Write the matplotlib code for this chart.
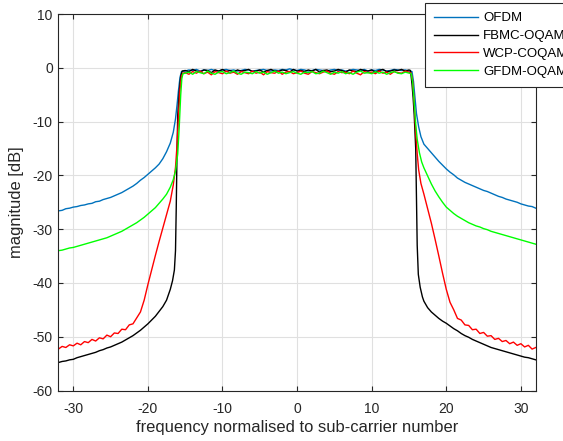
import matplotlib
matplotlib.use("Agg")
import matplotlib.pyplot as plt
import numpy as np

plt.rcParams['font.family'] = ['Liberation Sans', 'DejaVu Sans']
plt.rcParams['axes.unicode_minus'] = False

# frequency sample positions (sub-carrier units)
x_left = np.linspace(-32, -17, 31)
x_pass = np.linspace(-15, 15, 61)
x_right = np.linspace(17, 32, 31)

labels = ['OFDM', 'FBMC-OQAM', 'WCP-COQAM', 'GFDM-OQAM']
colors = ['#0072BD', '#000000', '#FF0000', '#00FF00']

# OFDM
ofdm_left = [-26.6, -26.5, -26.2, -26.1, -25.9, -25.8, -25.6, -25.5, -25.3, -25.2,
             -24.9, -24.8, -24.5, -24.3, -24.1, -23.8, -23.5, -23.2, -22.8, -22.4,
             -22.0, -21.5, -20.9, -20.4, -19.8, -19.2, -18.6, -17.9, -16.9, -15.6, -14.0]
ofdm_edge_l_x = [-16.6, -16.3, -16.1, -15.9, -15.7, -15.5]
ofdm_edge_l = [-12.0, -9.5, -7.0, -4.2, -1.8, -0.7]
ofdm_pass = [-0.6, -0.4, -0.5, -0.3, -0.6, -0.4, -0.5, -0.3, -0.5, -0.6,
             -0.4, -0.3, -0.5, -0.4, -0.6, -0.5, -0.3, -0.4, -0.6, -0.5,
             -0.4, -0.3, -0.5, -0.6, -0.4, -0.5, -0.3, -0.4, -0.2, -0.4,
             -0.5, -0.3, -0.4, -0.6, -0.5, -0.3, -0.4, -0.5, -0.6, -0.4,
             -0.3, -0.5, -0.4, -0.6, -0.5, -0.3, -0.4, -0.5, -0.3, -0.6,
             -0.4, -0.5, -0.3, -0.4, -0.6, -0.5, -0.3, -0.4, -0.5, -0.4, -0.6]
ofdm_edge_r_x = [15.4, 15.6, 15.8, 16.0, 16.3, 16.6]
ofdm_edge_r = [-0.7, -2.5, -5.5, -8.5, -11.0, -12.8]
ofdm_right = [-14.2, -15.0, -15.8, -16.6, -17.4, -18.1, -18.8, -19.4, -19.9, -20.5,
              -20.9, -21.3, -21.6, -21.9, -22.2, -22.5, -22.8, -23.0, -23.3, -23.6,
              -23.9, -24.1, -24.4, -24.6, -24.8, -25.0, -25.3, -25.5, -25.7, -25.8, -26.1]

# FBMC-OQAM
fbmc_left = [-54.8, -54.6, -54.5, -54.3, -54.2, -53.9, -53.7, -53.5, -53.3, -53.1,
             -52.9, -52.6, -52.4, -52.1, -51.9, -51.6, -51.3, -51.0, -50.6, -50.2,
             -49.8, -49.3, -48.8, -48.2, -47.6, -46.9, -46.2, -45.3, -44.4, -43.2, -41.2]
fbmc_edge_l_x = [-16.7, -16.45, -16.3, -16.2, -16.1, -16.0, -15.8, -15.6, -15.4]
fbmc_edge_l = [-39.6, -37.6, -34.0, -26.0, -16.0, -8.8, -4.5, -1.6, -0.6]
fbmc_pass = [-0.5, -0.7, -0.3, -0.6, -0.8, -0.4, -0.5, -0.9, -0.4, -0.6,
             -0.3, -0.7, -0.5, -0.8, -0.4, -0.6, -0.5, -0.3, -0.7, -0.6,
             -0.4, -0.8, -0.5, -0.3, -0.6, -0.7, -0.4, -0.5, -0.8, -0.3,
             -0.6, -0.5, -0.7, -0.4, -0.6, -0.3, -0.8, -0.5, -0.4, -0.7,
             -0.6, -0.3, -0.5, -0.8, -0.4, -0.6, -0.7, -0.3, -0.5, -0.6,
             -0.4, -0.8, -0.5, -0.3, -0.7, -0.6, -0.4, -0.5, -0.3, -0.6, -0.4]
fbmc_edge_r_x = [15.2, 15.4, 15.55, 15.7, 15.9, 16.0, 16.1, 16.25, 16.5, 16.8]
fbmc_edge_r = [-0.5, -3.0, -5.5, -8.8, -15.0, -24.0, -33.0, -38.4, -40.8, -42.6]
fbmc_right = [-43.4, -44.6, -45.4, -46.0, -46.6, -47.1, -47.5, -48.0, -48.5, -48.9,
              -49.4, -49.8, -50.1, -50.5, -50.8, -51.1, -51.4, -51.7, -52.0, -52.2,
              -52.4, -52.6, -52.8, -53.0, -53.2, -53.4, -53.6, -53.8, -53.9, -54.1, -54.3]

# WCP-COQAM
wcp_left = [-52.3, -51.8, -52.0, -51.5, -51.7, -51.2, -51.5, -50.9, -51.1, -50.5,
            -50.8, -50.2, -50.4, -49.7, -50.0, -49.3, -49.4, -48.6, -48.7, -47.8,
            -47.6, -46.5, -45.4, -43.2, -40.3, -37.6, -34.9, -32.3, -29.8, -27.3, -24.8]
wcp_edge_l_x = [-16.6, -16.3, -16.1, -15.9, -15.7, -15.5, -15.3]
wcp_edge_l = [-21.8, -18.5, -14.5, -9.0, -4.0, -1.5, -1.0]
wcp_pass = [-0.9, -1.2, -0.7, -1.0, -0.6, -1.1, -0.8, -1.3, -0.7, -0.9,
            -1.1, -0.6, -1.0, -0.8, -1.2, -0.7, -0.9, -1.1, -0.6, -1.0,
            -0.8, -1.3, -0.7, -0.9, -1.0, -0.6, -1.2, -0.8, -0.7, -1.1,
            -0.9, -0.6, -1.0, -1.2, -0.7, -0.9, -1.1, -0.8, -0.6, -1.0,
            -1.2, -0.7, -0.9, -0.8, -1.1, -0.6, -1.0, -1.3, -0.7, -0.9,
            -0.8, -1.1, -0.6, -1.0, -0.8, -1.2, -0.7, -0.9, -1.0, -0.6, -0.8]
wcp_edge_r_x = [15.3, 15.5, 15.7, 15.9, 16.1, 16.3, 16.6]
wcp_edge_r = [-1.0, -2.5, -6.5, -12.0, -16.0, -19.0, -21.5]
wcp_right = [-23.5, -26.2, -28.9, -31.9, -35.0, -38.2, -41.2, -43.6, -45.0, -46.6,
             -46.9, -47.8, -47.9, -48.7, -48.6, -49.4, -49.2, -49.9, -49.8, -50.5,
             -50.3, -50.9, -50.7, -51.3, -51.0, -51.6, -51.3, -51.9, -51.6, -52.3, -52.0]

# GFDM-OQAM
gfdm_left = [-34.0, -33.9, -33.7, -33.5, -33.4, -33.2, -33.0, -32.8, -32.6, -32.4,
             -32.2, -32.0, -31.8, -31.6, -31.3, -31.0, -30.7, -30.4, -30.0, -29.6,
             -29.2, -28.8, -28.3, -27.8, -27.2, -26.6, -26.0, -25.2, -24.4, -23.5, -22.2]
gfdm_edge_l_x = [-16.6, -16.3, -16.0, -15.8, -15.6, -15.45, -15.3]
gfdm_edge_l = [-20.8, -19.2, -16.0, -11.0, -5.0, -2.0, -1.1]
gfdm_pass = [-1.0, -0.8, -1.2, -0.7, -0.9, -1.1, -0.6, -1.0, -1.2, -0.8,
             -0.7, -1.1, -0.9, -0.6, -1.0, -1.2, -0.8, -0.9, -1.1, -0.7,
             -1.0, -0.8, -1.2, -0.9, -0.6, -1.0, -0.8, -1.1, -0.9, -0.7,
             -1.0, -1.2, -0.8, -0.9, -0.7, -1.1, -1.0, -0.6, -0.9, -1.2,
             -0.8, -1.0, -0.7, -1.1, -0.9, -1.2, -0.8, -0.6, -1.0, -0.9,
             -1.1, -0.7, -1.0, -0.8, -1.2, -0.9, -0.7, -1.0, -1.1, -0.8, -1.0]
gfdm_edge_r_x = [15.3, 15.5, 15.7, 15.9, 16.1, 16.4, 16.7]
gfdm_edge_r = [-1.1, -2.8, -6.5, -10.5, -13.3, -15.8, -17.5]
gfdm_right = [-18.6, -20.1, -21.6, -22.9, -24.0, -25.0, -25.9, -26.5, -27.1, -27.6,
              -28.0, -28.4, -28.8, -29.1, -29.4, -29.6, -29.9, -30.1, -30.4, -30.6,
              -30.8, -31.0, -31.2, -31.4, -31.6, -31.8, -32.0, -32.2, -32.4, -32.6, -32.8]

series = [
    (ofdm_left, ofdm_edge_l_x, ofdm_edge_l, ofdm_pass, ofdm_edge_r_x, ofdm_edge_r, ofdm_right),
    (fbmc_left, fbmc_edge_l_x, fbmc_edge_l, fbmc_pass, fbmc_edge_r_x, fbmc_edge_r, fbmc_right),
    (wcp_left, wcp_edge_l_x, wcp_edge_l, wcp_pass, wcp_edge_r_x, wcp_edge_r, wcp_right),
    (gfdm_left, gfdm_edge_l_x, gfdm_edge_l, gfdm_pass, gfdm_edge_r_x, gfdm_edge_r, gfdm_right),
]

fig = plt.figure(figsize=(5.63, 4.41), dpi=100)
ax = fig.add_axes([0.1037, 0.1145, 0.848, 0.8537])

for (yl, exl, eyl, yp, exr, eyr, yr), lab, col in zip(series, labels, colors):
    x = np.concatenate([x_left, exl, x_pass, exr, x_right])
    y = np.concatenate([yl, eyl, yp, eyr, yr])
    ax.plot(x, y, color=col, lw=1.0, label=lab)

ax.set_xlim(-32, 32)
ax.set_ylim(-60, 10)
ax.set_xticks([-30, -20, -10, 0, 10, 20, 30])
ax.set_yticks(np.arange(-60, 11, 10))
ax.grid(True, color='#e0e0e0', lw=0.8)
ax.set_axisbelow(True)
for s in ax.spines.values():
    s.set_color('#262626')
    s.set_linewidth(0.8)
ax.tick_params(direction='in', top=True, right=True, length=3.5, width=0.8,
               colors='#262626', labelsize=10)
ax.tick_params(axis='x', pad=8.5)
ax.tick_params(axis='y', pad=4)
ax.set_xlabel('frequency normalised to sub-carrier number', fontsize=11.9,
              color='#262626', labelpad=3)
ax.set_ylabel('magnitude [dB]', fontsize=11.9, color='#262626', labelpad=6)

leg = fig.legend(loc='upper left', bbox_to_anchor=(425 / 563, 1 - 3 / 441),
                 borderaxespad=0, fontsize=9.5, handlelength=3.3, handletextpad=0.4,
                 labelspacing=0.42, borderpad=0.7, fancybox=False, framealpha=1)
leg.get_frame().set_edgecolor('#262626')
leg.get_frame().set_linewidth(0.8)

fig.savefig('out.png', dpi=100)
